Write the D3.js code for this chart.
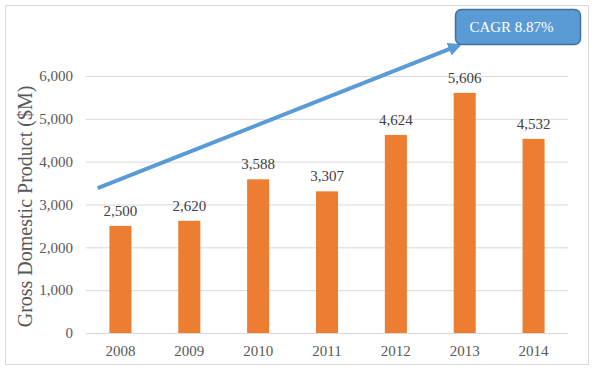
<!DOCTYPE html>
<html>
<head>
<meta charset="utf-8">
<script src="https://cdn.jsdelivr.net/npm/d3@7"></script>
<style>
  body { margin: 0; background: #fff; }
  svg text { font-family: "Liberation Serif", "Times New Roman", serif; }
</style>
</head>
<body>
<div id="chart"></div>
<script>
// data
const years = ["2008", "2009", "2010", "2011", "2012", "2013", "2014"];
const gdp = [2500, 2620, 3588, 3307, 4624, 5606, 4532];
const yTicks = [0, 1000, 2000, 3000, 4000, 5000, 6000];
const cagrLabel = "CAGR 8.87%";
// trend arrow, in (category index, value) terms
const arrowFrom = [-0.33, 3380];
const arrowTo = [4.92, 6720];

const width = 594, height = 370;
const margin = {top: 76, right: 26, bottom: 37, left: 86};

const svg = d3.select("#chart").append("svg")
  .attr("width", width).attr("height", height);

// outer frame
svg.append("rect")
  .attr("x", 5.5).attr("y", 5.5)
  .attr("width", width - 11).attr("height", height - 11)
  .attr("fill", "#fff").attr("stroke", "#d9d9d9");

const x = d3.scaleBand().domain(years)
  .range([margin.left, width - margin.right]).paddingInner(0.68).paddingOuter(0.34);
const xi = d3.scaleLinear().domain([-0.5, years.length - 0.5])
  .range([margin.left, width - margin.right]);
const y = d3.scaleLinear().domain([0, 6000])
  .range([height - margin.bottom, margin.top]);

// grid + y labels
const yAxis = svg.append("g")
  .attr("transform", "translate(" + margin.left + ",0)")
  .call(d3.axisLeft(y).tickValues(yTicks).tickFormat(d3.format(","))
    .tickSize(-(width - margin.left - margin.right)).tickPadding(13));
yAxis.select(".domain").remove();
yAxis.selectAll(".tick line").attr("stroke", "#d9d9d9");
yAxis.selectAll(".tick text").attr("fill", "#595959").attr("font-size", 15);

// x labels
const xAxis = svg.append("g")
  .attr("transform", "translate(0," + (height - margin.bottom) + ")")
  .call(d3.axisBottom(x).tickSize(0).tickPadding(12));
xAxis.select(".domain").remove();
xAxis.selectAll(".tick text").attr("fill", "#595959").attr("font-size", 15);

// bars
svg.append("g").selectAll("rect")
  .data(gdp).enter().append("rect")
  .attr("x", (d, i) => x(years[i]))
  .attr("width", x.bandwidth())
  .attr("y", d => y(d))
  .attr("height", d => y(0) - y(d))
  .attr("fill", "#ed7d31");

// data labels
svg.append("g").selectAll("text")
  .data(gdp).enter().append("text")
  .attr("x", (d, i) => x(years[i]) + x.bandwidth() / 2)
  .attr("y", d => y(d) - 10)
  .attr("text-anchor", "middle")
  .attr("fill", "#404040")
  .attr("font-size", 15)
  .text(d3.format(","));

// y title
svg.append("text")
  .attr("transform", "translate(32," + ((margin.top + height - margin.bottom) / 2 + 2) + ") rotate(-90)")
  .attr("text-anchor", "middle")
  .attr("fill", "#595959")
  .attr("font-size", 20)
  .text("Gross Domestic Product ($M)");

// trend arrow
svg.append("defs").append("marker")
  .attr("id", "head")
  .attr("viewBox", "0 0 10 10")
  .attr("refX", 8).attr("refY", 5)
  .attr("markerWidth", 3.4).attr("markerHeight", 3.4)
  .attr("orient", "auto")
  .append("path").attr("d", "M0,0 L10,5 L0,10 z").attr("fill", "#5b9bd5");

svg.append("line")
  .attr("x1", xi(arrowFrom[0])).attr("y1", y(arrowFrom[1]))
  .attr("x2", xi(arrowTo[0])).attr("y2", y(arrowTo[1]))
  .attr("stroke", "#5b9bd5").attr("stroke-width", 4)
  .attr("marker-end", "url(#head)");

// CAGR callout
const box = svg.append("g").attr("transform", "translate(455.5,9.5)");
box.append("rect")
  .attr("width", 125).attr("height", 35).attr("rx", 6)
  .attr("fill", "#5b9bd5").attr("stroke", "#41719c").attr("stroke-width", 1.5);
box.append("text")
  .attr("x", 56).attr("y", 22)
  .attr("text-anchor", "middle")
  .attr("fill", "#fff")
  .attr("font-size", 15)
  .text(cagrLabel);
</script>
</body>
</html>
